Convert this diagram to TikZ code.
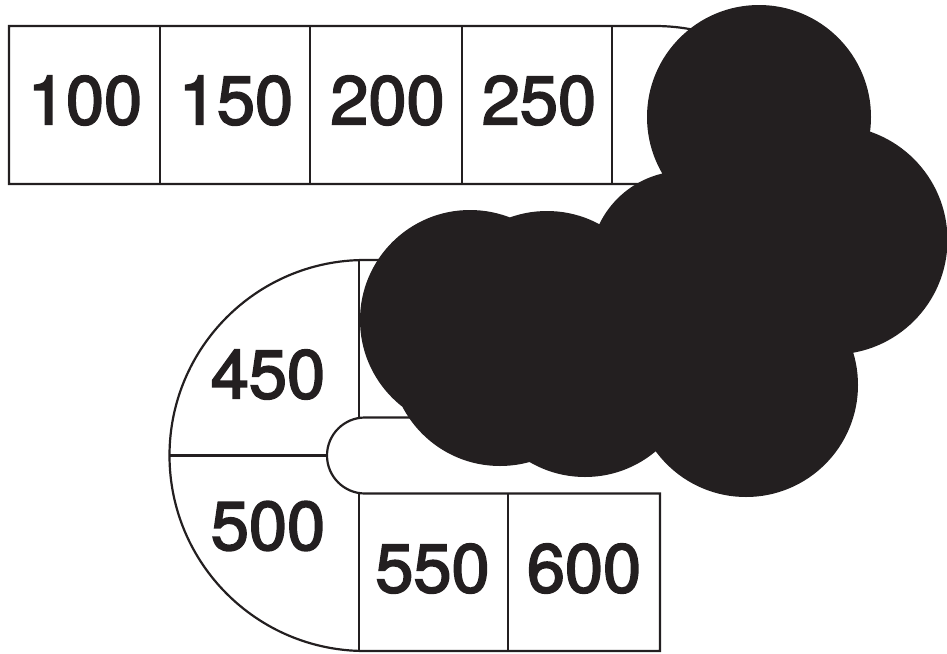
\documentclass[tikz,border=0pt]{standalone}
\usepackage{fontspec}
\setmainfont{TeX Gyre Heros}
\newfontfamily\tilefont{TeX Gyre Heros}[RawFeature={embolden=2.6}]
\usepackage{xcolor}
\usepackage{tikz}
\definecolor{cInk}{HTML}{231F20}
\tikzset{
  track/.style={draw=cInk,line width=1.25pt,line join=miter},
  tdiv/.style={draw=cInk,line width=1.25pt},
  tlbl/.style={text=cInk,inner sep=0pt,font=\tilefont\fontsize{39}{44}\selectfont},
  cloud/.style={fill=cInk},
}

\begin{document}
\begin{tikzpicture}[x=0.02cm,y=-0.02cm]
    \useasboundingbox (0,0) rectangle (947,653);
    % track outline: top row, right turn, middle row, left turn, bottom row
    \draw[track] (9,26) -- (655,26) arc[start angle=-90,end angle=90,radius=196]
      -- (365,417.5) arc[start angle=-90,end angle=-270,radius=38]
      -- (660,493.5) -- (660,651) -- (365,651) arc[start angle=90,end angle=270,radius=195.5]
      -- (655,260) arc[start angle=90,end angle=-90,radius=38]
      -- (9,184) -- cycle;
    % tile borders
    \draw[tdiv] (160,26) -- (160,184);
    \draw[tdiv] (310,26) -- (310,184);
    \draw[tdiv] (462,26) -- (462,184);
    \draw[tdiv] (612,26) -- (612,184);
    \draw[tdiv] (359,260) -- (359,417.5);
    \draw[tdiv] (169.5,455.5) -- (327,455.5);
    \draw[tdiv] (359,493.5) -- (359,651);
    \draw[tdiv] (508,493.5) -- (508,651);
    % tile values
    \node[tlbl] (v100) at (85,100.5)   {100};
    \node[tlbl] (v150) at (236,100.5)  {150};
    \node[tlbl] (v200) at (387.5,100.5) {200};
    \node[tlbl] (v250) at (539,100.5)  {250};
    \node[tlbl] (v450) at (268,374.5)  {450};
    \node[tlbl] (v500) at (268,526)    {500};
    \node[tlbl] (v550) at (432.5,568.5) {550};
    \node[tlbl] (v600) at (584,568.5)  {600};
    % black cloud on top
    \fill[cloud] (759,117) circle[radius=112]
      (833,240) circle[radius=114.5]
      (746,385) circle[radius=112]
      (585,367) circle[radius=110]
      (500,356) circle[radius=110]
      (470,320) circle[radius=110]
      (547,321) circle[radius=110]
      (684,265) circle[radius=94];
  \end{tikzpicture}
\end{document}
